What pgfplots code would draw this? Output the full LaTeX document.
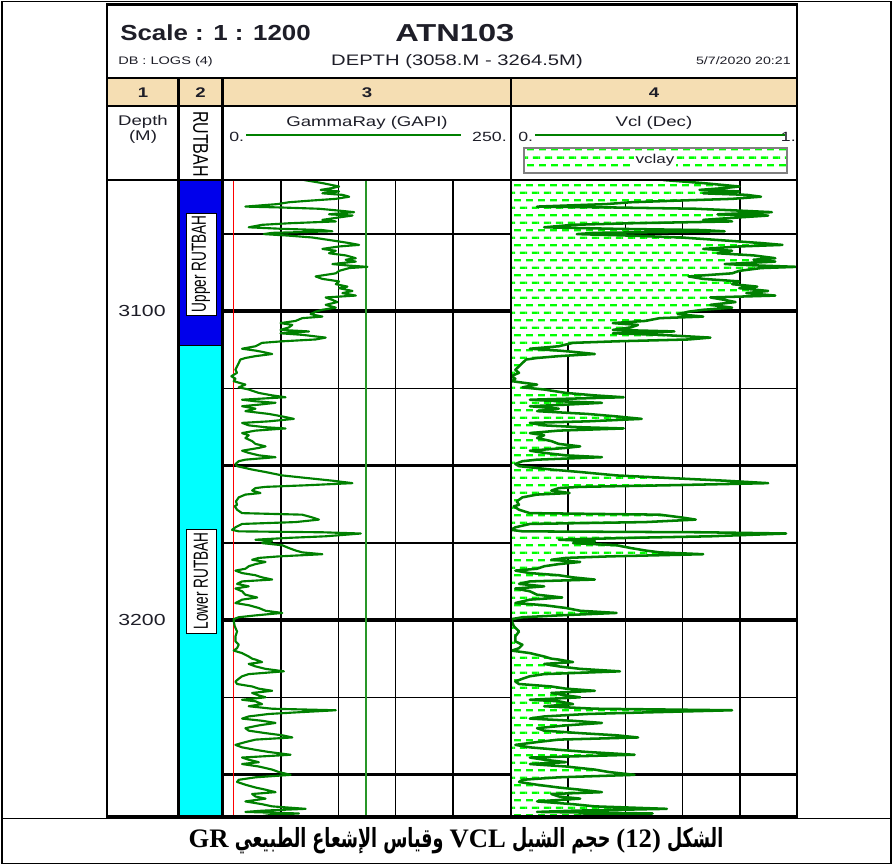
\documentclass[border=0pt]{standalone}
\usepackage{pgfplots}
\pgfplotsset{compat=1.18}
\usetikzlibrary{patterns}
\usepackage{pgfplotstable}
\usepackage{fontspec}
\setmainfont{Liberation Sans}
\newfontfamily\hf[FakeStretch=1.33]{Liberation Sans}
\newfontfamily\hfr{Liberation Sans}
\newfontfamily\arabicfont[Script=Arabic]{DejaVu Sans}
\newfontfamily\capserif{Liberation Serif}
\TeXXeTstate=1
\definecolor{curve}{RGB}{0,128,0}
\definecolor{dashgreen}{RGB}{0,255,0}
\definecolor{beige}{RGB}{245,222,179}
\definecolor{upperblue}{RGB}{0,0,235}
\definecolor{lowercyan}{RGB}{0,255,255}
\definecolor{txt}{RGB}{30,30,40}
\definecolor{shline}{RGB}{40,150,40}
\pgfdeclarepatterninherentlycolored{vclay}{\pgfpointorigin}{\pgfqpoint{9.2pt}{11.6pt}}{\pgfqpoint{9.2pt}{11.6pt}}{%
  \pgfsetfillcolor{white}%
  \pgfpathrectangle{\pgfqpoint{-0.1pt}{-0.1pt}}{\pgfqpoint{9.4pt}{11.8pt}}%
  \pgfusepath{fill}%
  \pgfsetfillcolor{dashgreen}%
  \pgfpathrectangle{\pgfqpoint{0pt}{2pt}}{\pgfqpoint{5.5pt}{1.8pt}}%
  \pgfpathrectangle{\pgfqpoint{4.6pt}{7.8pt}}{\pgfqpoint{4.6pt}{1.8pt}}%
  \pgfpathrectangle{\pgfqpoint{0pt}{7.8pt}}{\pgfqpoint{0.9pt}{1.8pt}}%
  \pgfusepath{fill}}

\pgfplotstableread{
depth gr vcl
3057.6 69.9 0.533
3058.6 86.0 0.672
3059.7 100.6 0.798
3060.2 94.7 0.747
3060.8 84.5 0.659
3061.3 100.6 0.798
3061.9 86.0 0.672
3062.4 103.5 0.823
3063.0 109.4 0.874
3063.7 97.7 0.773
3064.3 74.3 0.571
3064.8 56.7 0.419
3065.4 46.5 0.331
3066.2 18.7 0.091
3066.5 50.9 0.369
3066.9 83.0 0.646
3067.5 100.6 0.798
3068.0 113.7 0.912
3068.7 91.8 0.722
3069.1 112.3 0.899
3069.7 100.6 0.798
3070.5 86.0 0.672
3071.0 97.7 0.773
3071.6 56.7 0.419
3072.1 33.3 0.217
3072.9 21.6 0.116
3073.4 50.9 0.369
3073.8 86.0 0.672
3074.2 94.7 0.747
3074.7 42.1 0.293
3075.1 34.8 0.230
3075.6 56.7 0.419
3076.2 77.2 0.596
3077.0 91.8 0.722
3077.5 100.6 0.798
3078.0 109.4 0.874
3078.6 118.1 0.949
3079.1 100.6 0.798
3079.9 86.0 0.672
3080.5 97.7 0.773
3081.3 91.8 0.722
3082.0 106.4 0.848
3082.9 115.2 0.924
3083.4 106.4 0.848
3084.0 115.2 0.924
3084.8 94.7 0.747
3085.3 109.4 0.874
3085.7 125.4 1.000
3086.1 109.4 0.874
3087.0 100.6 0.798
3087.8 97.7 0.773
3088.8 80.1 0.621
3089.6 86.0 0.672
3090.4 100.6 0.798
3091.3 97.7 0.773
3092.1 107.9 0.861
3092.6 100.6 0.798
3093.5 112.3 0.899
3094.2 103.5 0.823
3095.0 115.2 0.924
3095.6 88.9 0.697
3096.4 94.7 0.747
3097.1 99.1 0.785
3098.0 88.9 0.697
3098.9 97.7 0.773
3099.6 86.0 0.672
3100.2 80.1 0.621
3101.0 75.7 0.583
3101.8 86.0 0.672
3102.3 68.4 0.520
3103.2 62.6 0.470
3103.9 49.4 0.356
3104.5 59.7 0.444
3105.3 56.7 0.419
3106.1 49.4 0.356
3106.6 74.3 0.571
3107.2 49.4 0.356
3107.7 68.4 0.520
3108.6 88.9 0.697
3109.2 80.1 0.621
3109.8 50.9 0.369
3110.3 33.3 0.217
3111.4 27.5 0.167
3112.2 15.8 0.066
3112.8 27.5 0.167
3113.2 33.3 0.217
3113.9 42.1 0.293
3114.6 27.5 0.167
3115.2 18.7 0.091
3115.7 14.3 0.053
3116.8 12.9 0.040
3117.9 11.4 0.028
3119.0 10.0 0.015
3120.0 11.4 0.028
3121.1 6.4 0.000
3121.9 10.0 0.015
3122.7 8.5 0.003
3123.8 18.7 0.091
3124.7 12.9 0.040
3125.4 21.6 0.116
3126.5 30.4 0.192
3127.3 42.1 0.293
3127.9 53.8 0.394
3128.7 15.8 0.066
3129.2 27.5 0.167
3129.7 45.0 0.318
3130.3 30.4 0.192
3130.8 15.8 0.066
3131.6 27.5 0.167
3132.4 18.7 0.091
3133.3 39.2 0.268
3134.1 50.9 0.369
3134.9 61.1 0.457
3135.7 39.2 0.268
3136.2 15.8 0.066
3137.0 21.6 0.116
3137.6 36.3 0.242
3138.0 53.8 0.394
3138.7 27.5 0.167
3139.5 15.8 0.066
3140.2 21.6 0.116
3141.1 18.7 0.091
3142.1 24.6 0.141
3143.0 27.5 0.167
3143.8 36.3 0.242
3144.3 30.4 0.192
3145.2 15.8 0.066
3145.9 21.6 0.116
3146.7 30.4 0.192
3147.3 45.0 0.318
3148.1 18.7 0.091
3148.6 12.9 0.040
3149.5 10.0 0.015
3150.2 11.4 0.028
3151.3 24.6 0.141
3152.1 36.3 0.242
3153.2 50.9 0.369
3154.0 71.4 0.545
3154.9 94.7 0.747
3155.7 112.3 0.899
3156.4 71.4 0.545
3156.9 36.3 0.242
3157.3 27.5 0.167
3158.1 24.6 0.141
3158.9 31.9 0.205
3159.4 18.7 0.091
3160.3 12.9 0.040
3161.6 10.5 0.020
3162.7 11.4 0.028
3163.2 9.4 0.010
3164.3 11.4 0.028
3165.4 15.8 0.066
3165.9 68.4 0.520
3166.8 77.2 0.596
3167.5 83.0 0.646
3168.3 62.6 0.470
3168.9 15.8 0.066
3170.0 10.0 0.015
3170.8 7.0 0.000
3171.3 12.9 0.040
3171.6 86.0 0.672
3172.0 119.6 0.962
3172.9 88.9 0.697
3173.4 56.7 0.419
3174.0 27.5 0.167
3174.5 42.1 0.293
3175.1 33.3 0.217
3175.8 50.9 0.369
3176.7 56.7 0.419
3177.5 62.6 0.470
3178.1 68.4 0.520
3178.7 86.0 0.672
3179.4 48.0 0.343
3179.9 30.4 0.192
3180.5 24.6 0.141
3181.2 36.3 0.242
3181.9 27.5 0.167
3182.6 21.6 0.116
3183.4 18.7 0.091
3184.0 10.0 0.015
3184.8 15.8 0.066
3185.5 27.5 0.167
3186.2 33.3 0.217
3186.9 42.1 0.293
3187.5 15.8 0.066
3188.3 11.4 0.028
3189.1 21.6 0.116
3189.8 10.0 0.015
3190.7 15.8 0.066
3191.8 18.7 0.091
3192.7 29.0 0.179
3193.4 15.8 0.066
3194.5 10.0 0.015
3195.2 21.6 0.116
3196.1 30.4 0.192
3197.0 36.3 0.242
3197.7 50.9 0.369
3198.5 27.5 0.167
3199.1 12.9 0.040
3199.7 8.5 0.003
3200.4 8.5 0.003
3202.0 9.4 0.010
3203.7 11.4 0.028
3205.3 10.0 0.015
3206.9 10.0 0.015
3208.0 12.9 0.040
3209.1 11.4 0.028
3209.9 8.5 0.003
3210.7 15.8 0.066
3211.8 21.6 0.116
3212.5 24.6 0.141
3212.8 27.5 0.167
3213.6 33.3 0.217
3214.2 21.6 0.116
3215.0 27.5 0.167
3215.8 36.3 0.242
3216.6 52.3 0.381
3217.5 21.6 0.116
3218.2 15.8 0.066
3219.0 12.9 0.040
3219.9 10.0 0.015
3220.7 11.4 0.028
3221.5 24.6 0.141
3222.2 30.4 0.192
3222.9 42.1 0.293
3223.6 24.6 0.141
3224.4 30.4 0.192
3225.0 36.3 0.242
3225.8 15.8 0.066
3226.3 27.5 0.167
3227.2 33.3 0.217
3227.9 21.6 0.116
3228.7 42.1 0.293
3229.2 97.7 0.773
3229.9 62.6 0.470
3230.4 39.2 0.268
3231.2 21.6 0.116
3231.9 15.8 0.066
3232.6 33.3 0.217
3233.3 45.0 0.318
3234.1 30.4 0.192
3235.0 18.7 0.091
3235.8 21.6 0.116
3236.6 36.3 0.242
3237.3 50.9 0.369
3238.0 59.7 0.444
3238.7 27.5 0.167
3239.5 18.7 0.091
3240.4 10.0 0.015
3241.2 15.8 0.066
3242.0 27.5 0.167
3242.7 39.2 0.268
3243.6 58.2 0.432
3244.5 15.8 0.066
3245.2 21.6 0.116
3246.0 30.4 0.192
3246.6 15.8 0.066
3247.4 30.4 0.192
3248.4 42.1 0.293
3249.2 48.0 0.343
3250.1 58.2 0.432
3250.9 27.5 0.167
3251.7 12.9 0.040
3252.4 11.4 0.028
3253.3 18.7 0.091
3254.2 27.5 0.167
3254.9 36.3 0.242
3255.7 45.0 0.318
3256.3 24.6 0.141
3257.1 27.5 0.167
3257.8 36.3 0.242
3258.7 18.7 0.091
3259.6 33.3 0.217
3260.3 42.1 0.293
3261.1 71.4 0.545
3261.7 33.3 0.217
3262.1 18.7 0.091
3262.6 65.5 0.495
3263.0 42.1 0.293
3263.5 33.3 0.217
}\logdata

\pgfplotstableread{
depth gr vcl
3057.6 0 0
}\filltab
\pgfplotstableread{
depth gr vcl
3263.5 0 0
}\bottomrow
\pgfplotstablevertcat{\filltab}{\logdata}
\pgfplotstablevertcat{\filltab}{\bottomrow}

\pgfplotsset{track/.style={
  scale only axis, width=214.5pt, height=476.25pt,
  anchor=north west,
  y dir=reverse, ymin=3057.6, ymax=3263.1,
  ytick={3075,3125,3175,3225},
  yticklabels={}, xticklabels={},
  major grid style={line width=1.1pt, black},
  major tick length=0pt,
  axis line style={draw=none},
  clip=true
},
gridded/.style={xmajorgrids, ymajorgrids,
  extra y ticks={3100,3150,3200,3250}, extra y tick labels={},
  extra y tick style={major grid style={line width=2.4pt, black}}}
}

\newcommand{\lat}[1]{\scalebox{1.37}[0.91]{\capserif\bfseries\fontsize{20}{22}\selectfont #1}}

\begin{document}
\begin{tikzpicture}
\begin{scope}[x=0.75pt,y=-0.75pt]
\fill[white] (0,0) rectangle (893,865);
\fill[beige] (107,78) rectangle (797,106);
\fill[upperblue] (178.5,180) rectangle (222.5,345.5);
\fill[lowercyan] (178.5,345.5) rectangle (222.5,816);
\coordinate (A3) at (224,180);
\coordinate (A4) at (511,180);
\end{scope}

\begin{axis}[track, gridded, at={(A3)}, xmin=0, xmax=250, xtick={50,100,150,200}]
\addplot[red, line width=1.1pt] coordinates {(8.2,3057.6) (8.2,3263.1)};
\addplot[shline, line width=1.1pt] coordinates {(124,3057.6) (124,3263.1)};
\addplot[curve, line width=1.6pt, line join=round] table[x=gr, y=depth] {\logdata};
\end{axis}

% grid of track 4 (drawn first, the shale fill covers it)
\begin{axis}[track, gridded, at={(A4)}, xmin=0, xmax=1, xtick={0.2,0.4,0.6,0.8}]
\addplot[draw=none] coordinates {(0,3100) (1,3200)};
\end{axis}

\begin{axis}[track, at={(A4)}, xmin=0, xmax=1, xtick={0.2,0.4,0.6,0.8}]
\addplot[fill=white, draw=none] table[x=vcl, y=depth] {\filltab};
\addplot[pattern=vclay, draw=none] table[x=vcl, y=depth] {\filltab};
\addplot[curve, line width=1.9pt, line join=round] table[x=vcl, y=depth] {\logdata};
\end{axis}

\begin{scope}[x=0.75pt,y=-0.75pt]
% frames
\draw[line width=1pt] (2,1.2) rectangle (891,863.5);
\draw[line width=1.4pt] (2,818.5) -- (891,818.5);
\draw[line width=2pt] (107,4.5) rectangle (797,816.5);
\draw[line width=1.6pt] (107,78) -- (797,78);
\draw[line width=1.6pt] (107,106) -- (797,106);
\draw[line width=2pt] (107,180) -- (797,180);
\foreach \x in {178.5,222.5,511} \draw[line width=2pt] (\x,78) -- (\x,816.5);
\draw[line width=0.6pt] (178.5,345.5) -- (222.5,345.5);
% header texts
\node[anchor=base west, inner sep=0, text=txt] at (120,40) {\scalebox{1}[1.12]{\hf\bfseries\fontsize{14.6}{16}\selectfont Scale : 1 : 1200}};
\node[anchor=base west, inner sep=0, text=txt] at (395,41) {\hf\bfseries\fontsize{18.4}{20}\selectfont ATN103};
\node[anchor=base west, inner sep=0, text=txt] at (118,64) {\hf\fontsize{8.2}{10}\selectfont DB : LOGS (4)};
\node[anchor=base, inner sep=0, text=txt] at (457,65) {\hf\fontsize{11.4}{13}\selectfont DEPTH (3058.M - 3264.5M)};
\node[anchor=base east, inner sep=0, text=txt] at (791,64) {\hf\fontsize{8}{10}\selectfont 5/7/2020 20:21};
\foreach \x/\t in {143/1,200.5/2,367/3,654/4}
  \node[anchor=base, inner sep=0, text=txt] at (\x,97) {\hf\bfseries\fontsize{10.5}{12}\selectfont \t};
\node[anchor=base, inner sep=0, text=txt] at (143,125) {\hf\fontsize{10.5}{12}\selectfont Depth};
\node[anchor=base, inner sep=0, text=txt] at (143,140) {\hf\fontsize{10.5}{12}\selectfont (M)};
\node[rotate=-90, inner sep=0, text=black] at (200.5,144) {\scalebox{1}[1.33]{\hfr\fontsize{12}{14}\selectfont RUTBAH}};
\node[anchor=base, inner sep=0, text=txt] at (367,126) {\hf\fontsize{10.5}{12}\selectfont GammaRay (GAPI)};
\node[anchor=base west, inner sep=0, text=txt] at (229,141) {\hf\fontsize{10}{12}\selectfont 0.};
\node[anchor=base east, inner sep=0, text=txt] at (507,141) {\hf\fontsize{10}{12}\selectfont 250.};
\draw[curve, line width=1.5pt] (246,135) -- (461,135);
\node[anchor=base, inner sep=0, text=txt] at (654,126) {\hf\fontsize{10.5}{12}\selectfont Vcl (Dec)};
\node[anchor=base west, inner sep=0, text=txt] at (518,141) {\hf\fontsize{10}{12}\selectfont 0.};
\node[anchor=base east, inner sep=0, text=txt] at (796,141) {\hf\fontsize{10}{12}\selectfont 1.};
\draw[curve, line width=1.5pt] (535,135) -- (785,135);
\draw[pattern=vclay, draw=gray, line width=0.8pt] (524,148) rectangle (787,173);
\node[fill=white, inner xsep=1.5pt, inner ysep=1pt, text=txt] at (655,160.5) {\hf\fontsize{9.6}{11}\selectfont vclay};
% depth labels
\node[anchor=base, inner sep=0, text=txt] at (142,316) {\hf\fontsize{12}{14}\selectfont 3100};
\node[anchor=base, inner sep=0, text=txt] at (142,625) {\hf\fontsize{12}{14}\selectfont 3200};
% formation labels
\node[rotate=90, fill=white, draw=black, line width=0.3pt, inner xsep=1pt, inner ysep=1pt, minimum width=102*0.75pt, minimum height=30*0.75pt] at (201,264) {\scalebox{1}[1.5]{\hfr\fontsize{10.2}{12}\selectfont Upper RUTBAH}};
\node[rotate=90, fill=white, draw=black, line width=0.3pt, inner xsep=1pt, inner ysep=1pt, minimum width=104*0.75pt, minimum height=30*0.75pt] at (201,581) {\scalebox{1}[1.5]{\hfr\fontsize{10.2}{12}\selectfont Lower RUTBAH}};
% caption
\node[inner sep=0] at (456,841) {\scalebox{0.73}[1.1]{\arabicfont\bfseries\fontsize{18}{20}\selectfont\beginR الشكل \beginL\lat{(12)}\endL{} حجم الشيل \beginL\lat{VCL}\endL{} وقياس الإشعاع الطبيعي \beginL\lat{GR}\endL\endR}};
\end{scope}
\end{tikzpicture}
\end{document}
